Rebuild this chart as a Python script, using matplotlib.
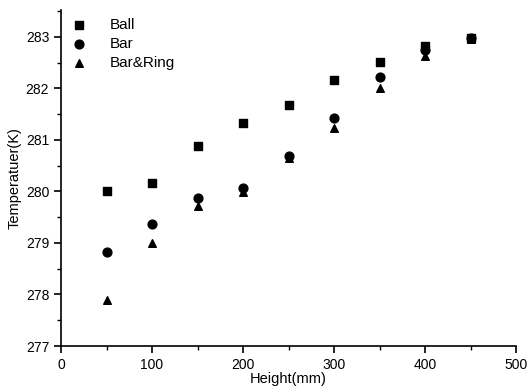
import matplotlib
matplotlib.use("Agg")
from matplotlib import pyplot as plt
from matplotlib.ticker import MultipleLocator

plt.rcParams['font.family'] = ['Liberation Sans', 'DejaVu Sans']

height = [50, 100, 150, 200, 250, 300, 350, 400, 450]

ball = [280.00, 280.17, 280.88, 281.32, 281.67, 282.17, 282.52, 282.82, 282.97]
bar = [278.82, 279.36, 279.87, 280.07, 280.68, 281.42, 282.22, 282.75, 282.97]
bar_ring = [277.90, 278.99, 279.71, 279.98, 280.64, 281.23, 282.00, 282.63, 282.95]


def main():
    fig = plt.figure(figsize=(5.28, 3.88), dpi=100)
    ax = fig.add_axes([61 / 528, 42 / 388, 455 / 528, 336 / 388])

    ax.scatter(height, ball, marker='s', s=30, color='black', label='Ball', zorder=3)
    ax.scatter(height, bar_ring, marker='^', s=30, color='black', label='Bar&Ring', zorder=3)
    ax.scatter(height, bar, marker='o', s=40, color='black', label='Bar', zorder=4)

    ax.set_xlim(0, 500)
    ax.set_ylim(277, 283.52)
    ax.xaxis.set_major_locator(MultipleLocator(100))
    ax.xaxis.set_minor_locator(MultipleLocator(50))
    ax.yaxis.set_major_locator(MultipleLocator(1))
    ax.yaxis.set_minor_locator(MultipleLocator(0.5))

    ax.spines['top'].set_visible(False)
    ax.spines['right'].set_visible(False)
    ax.spines['left'].set_linewidth(1.2)
    ax.spines['bottom'].set_linewidth(1.2)
    ax.tick_params(which='major', direction='out', length=5, width=1.2, labelsize=10)
    ax.tick_params(which='minor', direction='out', length=3, width=1.0)

    ax.set_xlabel('Height(mm)', fontsize=10.5, labelpad=0)
    ax.set_ylabel('Temperatuer(K)', fontsize=10.5, labelpad=3)

    handles, labels = ax.get_legend_handles_labels()
    order = [0, 2, 1]
    ax.legend([handles[i] for i in order], [labels[i] for i in order],
              loc='upper left', frameon=False, fontsize=11, handletextpad=1.0,
              borderaxespad=0.1, labelspacing=0.35, bbox_to_anchor=(-0.01, 1.0))

    fig.savefig('out.png', dpi=100)


if __name__ == "__main__":
    main()
